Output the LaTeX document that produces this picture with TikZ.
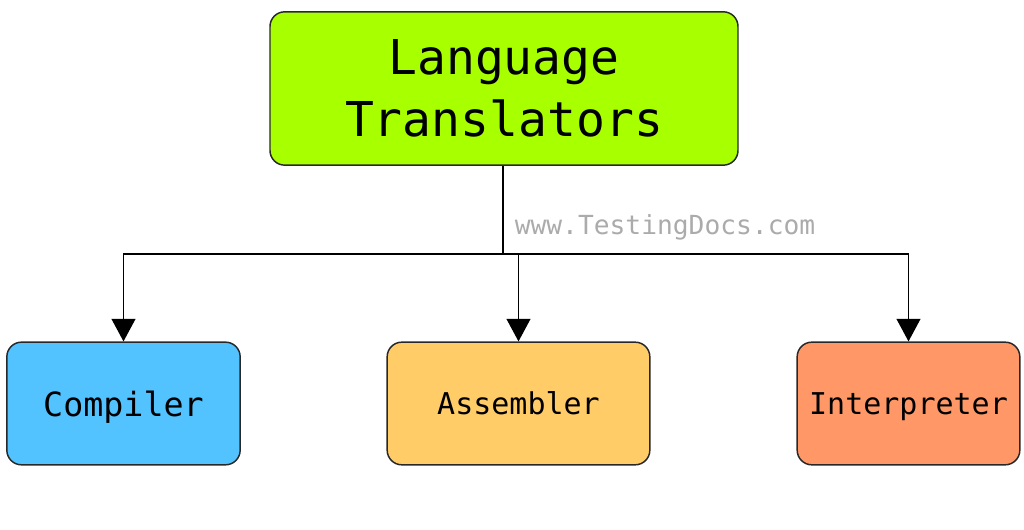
\documentclass[tikz,border=0pt]{standalone}
\usepackage{fontspec}
\setmonofont{DejaVu Sans Mono}
\usepackage{tikz}
\usetikzlibrary{arrows.meta}
\definecolor{topgreen}{RGB}{168,255,0}
\definecolor{compblue}{RGB}{82,195,255}
\definecolor{asmorange}{RGB}{255,204,104}
\definecolor{intsalmon}{RGB}{255,152,102}
\definecolor{edgegray}{RGB}{40,40,40}

\begin{document}
\begin{tikzpicture}[x=0.75pt, y=0.75pt,
    box/.style={draw=edgegray, line width=1.1pt, rounded corners=11pt,
        font=\ttfamily, align=center, inner sep=0pt},
    link/.style={line width=1pt, -{Triangle[width=18pt, length=17pt]}}]
    \useasboundingbox (0,0) rectangle (1024,530);
    % Root of the tree
    \node[box, fill=topgreen, minimum width=351pt, minimum height=115pt,
        font=\ttfamily\fontsize{36}{46}\selectfont] (lang) at (504,441.5) {Language\\Translators};
    
    % Kinds of translators
    \node[box, fill=compblue, minimum width=175pt, minimum height=92pt, text depth=0pt,
        font=\ttfamily\fontsize{25}{30}\selectfont] (comp) at (123.5,126.5) {Compiler};
    \node[box, fill=asmorange, minimum width=197pt, minimum height=92pt,
        font=\ttfamily\fontsize{22.5}{27}\selectfont] (asm) at (518.5,126.5) {Assembler};
    \node[box, fill=intsalmon, minimum width=167pt, minimum height=92pt, text depth=0pt,
        font=\ttfamily\fontsize{22.5}{27}\selectfont] (interp) at (908.5,126.5) {Interpreter};
    
    % Watermark
    \node[text=black!33, font=\ttfamily\fontsize{19.7}{24}\selectfont] (mark) at (665,303) {www.TestingDocs.com};
    
    % Branches
    \coordinate (split) at (503,276);
    \draw[line width=1pt] (lang.south -| split) -- (split);
    \draw[link] (split) -| (comp.north);
    \draw[link] (split) -| (asm.north);
    \draw[link] (split) -| (interp.north);
\end{tikzpicture}
\end{document}
